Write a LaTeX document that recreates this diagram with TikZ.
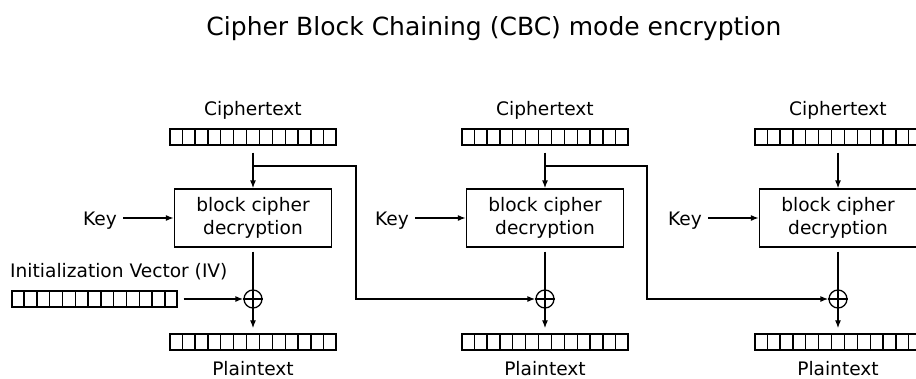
\documentclass[tikz,border=0pt]{standalone}
\usepackage{fontspec}
\setmainfont{DejaVu Sans}
\usetikzlibrary{calc}
\usetikzlibrary{arrows.meta}
\newcommand{\lblfont}{\fontsize{18.6}{22.3}\selectfont}
\newcommand{\regcells}[1]{\foreach \k in {1,...,12} {\draw[regline] ($(#1.south west)!\k/13!(#1.south east)$) -- ($(#1.north west)!\k/13!(#1.north east)$);}}
\tikzset{
  regline/.style={line width=1.3pt},
  reg/.style={draw, line width=1.4pt, minimum width=166pt, minimum height=16pt, inner sep=0pt},
  cbox/.style={draw, line width=1.3pt, minimum width=157pt, minimum height=58pt, align=center, inner sep=0pt, font=\lblfont},
  xorop/.style={draw, circle, line width=1.3pt, minimum size=18pt, inner sep=0pt},
  lbl/.style={inner sep=0pt, font=\lblfont},
  conn/.style={line width=1.3pt},
  arr/.style={conn, -{Latex[length=8pt,width=6pt]}}
}

\begin{document}
\begin{tikzpicture}[x=1pt, y=-1pt]
    \useasboundingbox (0,0) rectangle (916,378);
    \node[anchor=base, font=\fontsize{25}{30}\selectfont] (title) at (494,35) {Cipher Block Chaining (CBC) mode encryption};
    % column 1
    \node[lbl, anchor=base] (ct1) at (253,115) {Ciphertext};
    \node[reg] (c1) at (253,137) {};
    \regcells{c1}
    \node[cbox] (b1) at (253,218) {block cipher\\decryption};
    \node[lbl, anchor=base] (k1) at (100,225) {Key};
    \node[xorop] (x1) at (253,299) {};
    \node[reg] (p1) at (253,342) {};
    \regcells{p1}
    \node[lbl, anchor=base] (pt1) at (253,375) {Plaintext};
    \node[lbl, anchor=base west] (ivl) at (10,277) {Initialization Vector (IV)};
    \node[reg, minimum width=165pt] (iv) at (94.5,299) {};
    \regcells{iv}
    \coordinate (j1) at (253,166);
    \coordinate (t1) at (356,166);
    % column 2
    \node[lbl, anchor=base] (ct2) at (545,115) {Ciphertext};
    \node[reg] (c2) at (545,137) {};
    \regcells{c2}
    \node[cbox] (b2) at (545,218) {block cipher\\decryption};
    \node[lbl, anchor=base] (k2) at (392,225) {Key};
    \node[xorop] (x2) at (545,299) {};
    \node[reg] (p2) at (545,342) {};
    \regcells{p2}
    \node[lbl, anchor=base] (pt2) at (545,375) {Plaintext};
    \coordinate (j2) at (545,166);
    \coordinate (t2) at (647,166);
    % column 3
    \node[lbl, anchor=base] (ct3) at (838,115) {Ciphertext};
    \node[reg] (c3) at (838,137) {};
    \regcells{c3}
    \node[cbox] (b3) at (838,218) {block cipher\\decryption};
    \node[lbl, anchor=base] (k3) at (685,225) {Key};
    \node[xorop] (x3) at (838,299) {};
    \node[reg] (p3) at (838,342) {};
    \regcells{p3}
    \node[lbl, anchor=base] (pt3) at (838,375) {Plaintext};
    % connectors
    \foreach \i in {1,2,3} {
        \draw[arr, shorten <=7pt] (c\i) -- (b\i);
        \draw[arr, shorten <=6pt] (k\i.east |- b\i.west) -- (b\i.west);
        \draw[conn, shorten <=4pt] (b\i) -- (x\i);
        \draw[conn] (x\i.north) -- (x\i.south) (x\i.west) -- (x\i.east);
        \draw[arr, shorten >=5pt] (x\i) -- (p\i);
    }
    \draw[arr, shorten <=6pt] (iv.east) -- (x1.west);
    \draw[arr] (j1) -- (t1) |- (x2.west);
    \draw[arr] (j2) -- (t2) |- (x3.west);
\end{tikzpicture}
\end{document}
